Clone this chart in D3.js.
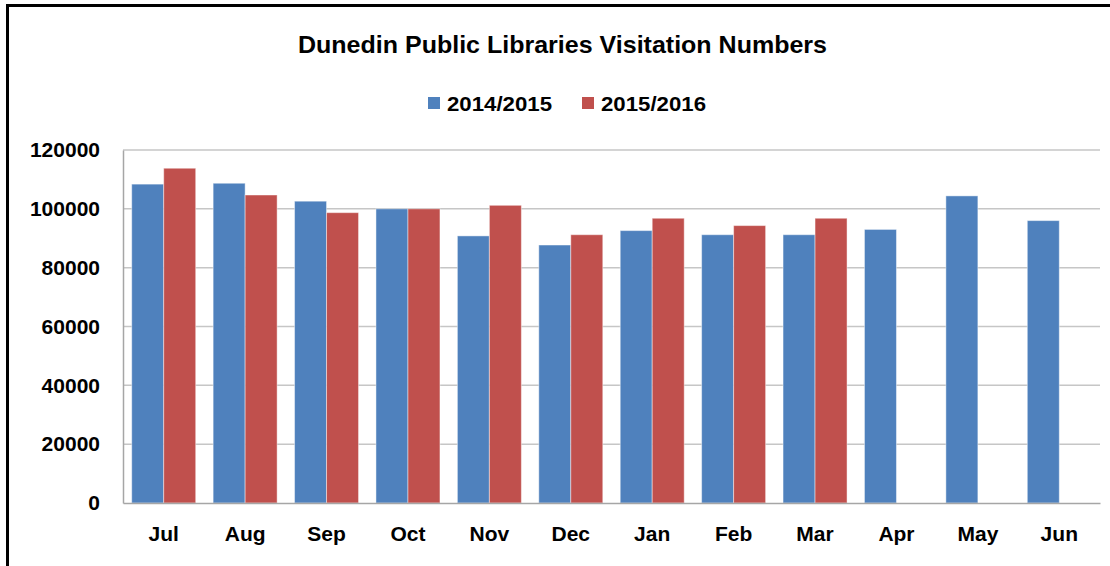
<!DOCTYPE html>
<html>
<head>
<meta charset="utf-8">
<script src="https://cdn.jsdelivr.net/npm/d3@7"></script>
<style>
  html, body { margin: 0; padding: 0; background: #fff; }
  svg { display: block; }
  text { font-family: "Liberation Sans", Arial, sans-serif; font-weight: bold; fill: #000; }
</style>
</head>
<body>
<div id="chart"></div>
<script>
// Chart data
const months = ['Jul', 'Aug', 'Sep', 'Oct', 'Nov', 'Dec', 'Jan', 'Feb', 'Mar', 'Apr', 'May', 'Jun'];
const seriesNames = ['2014/2015', '2015/2016'];
const visits1415 = [108400, 108700, 102600, 100000, 90800, 87700, 92600, 91200, 91200, 93000, 104400, 96000];
const visits1516 = [113800, 104700, 98700, 100000, 101200, 91200, 96800, 94300, 96800, null, null, null];
const yTicks = [0, 20000, 40000, 60000, 80000, 100000, 120000];
const colors = ['#4F81BD', '#C0504D'];

const width = 1110, height = 566;
const margin = { top: 150, right: 10, bottom: 63, left: 123 };
const innerW = width - margin.left - margin.right;
const innerH = height - margin.top - margin.bottom;

const svg = d3.select('#chart')
  .append('svg')
    .attr('width', width)
    .attr('height', height);

// Outer frame
svg.append('rect')
  .attr('x', 7.5).attr('y', 5.5)
  .attr('width', width + 20).attr('height', height + 20)
  .attr('fill', 'none')
  .attr('stroke', '#000')
  .attr('stroke-width', 3);

// Title
svg.append('text')
  .attr('x', 298).attr('y', 53)
  .attr('textLength', 529)
  .attr('lengthAdjust', 'spacingAndGlyphs')
  .style('font-size', '24px')
  .text('Dunedin Public Libraries Visitation Numbers');

// Legend
const legendX = [428, 582];
const legend = svg.append('g');
seriesNames.forEach((name, i) => {
  legend.append('rect')
    .attr('x', legendX[i]).attr('y', 97)
    .attr('width', 12).attr('height', 12)
    .attr('fill', colors[i]);
  legend.append('text')
    .attr('x', legendX[i] + 19).attr('y', 111)
    .attr('textLength', 105)
    .attr('lengthAdjust', 'spacingAndGlyphs')
    .style('font-size', '21px')
    .text(name);
});

const g = svg.append('g')
  .attr('transform', `translate(${margin.left}, ${margin.top})`);

// Scales
const x0 = d3.scaleBand()
  .domain(months)
  .range([0, innerW])
  .paddingInner(0.214)
  .paddingOuter(0.107);

const x1 = d3.scaleBand()
  .domain(seriesNames)
  .range([0, x0.bandwidth()])
  .padding(0);

const y = d3.scaleLinear()
  .domain([0, 120000])
  .range([innerH, 0]);

// Gridlines
g.append('g')
  .selectAll('line')
  .data(yTicks.filter(d => d > 0))
  .join('line')
    .attr('x1', 0).attr('x2', innerW)
    .attr('y1', d => y(d)).attr('y2', d => y(d))
    .attr('stroke', '#c6c6c6')
    .attr('stroke-width', 1.5);

// Y axis
const yAxis = g.append('g')
  .call(d3.axisLeft(y).tickValues(yTicks).tickFormat(d3.format('d')).tickSize(0).tickPadding(23));
yAxis.select('.domain').attr('stroke', '#a6a6a6').attr('stroke-width', 1.5);
yAxis.selectAll('text')
  .style('font-size', '21px')
  .style('font-family', '"Liberation Sans", Arial, sans-serif')
  .style('font-weight', 'bold')
  .attr('fill', '#000');

// Bars
const data = months.map((m, i) => ({ month: m, values: [visits1415[i], visits1516[i]] }));

g.append('g')
  .selectAll('g')
  .data(data)
  .join('g')
    .attr('transform', d => `translate(${x0(d.month)}, 0)`)
  .selectAll('rect')
  .data(d => d.values.map((v, i) => ({ key: seriesNames[i], value: v, idx: i })).filter(d => d.value != null))
  .join('rect')
    .attr('x', d => x1(d.key))
    .attr('y', d => y(d.value))
    .attr('width', x1.bandwidth())
    .attr('height', d => innerH - y(d.value))
    .attr('fill', d => colors[d.idx])
    .attr('stroke', 'rgba(255,255,255,0.45)')
    .attr('stroke-width', 1);

// X axis
const xAxis = g.append('g')
  .attr('transform', `translate(0, ${innerH})`)
  .call(d3.axisBottom(x0).tickSize(0).tickPadding(23));
xAxis.select('.domain').attr('stroke', '#a6a6a6').attr('stroke-width', 1.5);
xAxis.selectAll('text')
  .style('font-size', '21px')
  .style('font-family', '"Liberation Sans", Arial, sans-serif')
  .style('font-weight', 'bold')
  .attr('fill', '#000');
</script>
</body>
</html>
